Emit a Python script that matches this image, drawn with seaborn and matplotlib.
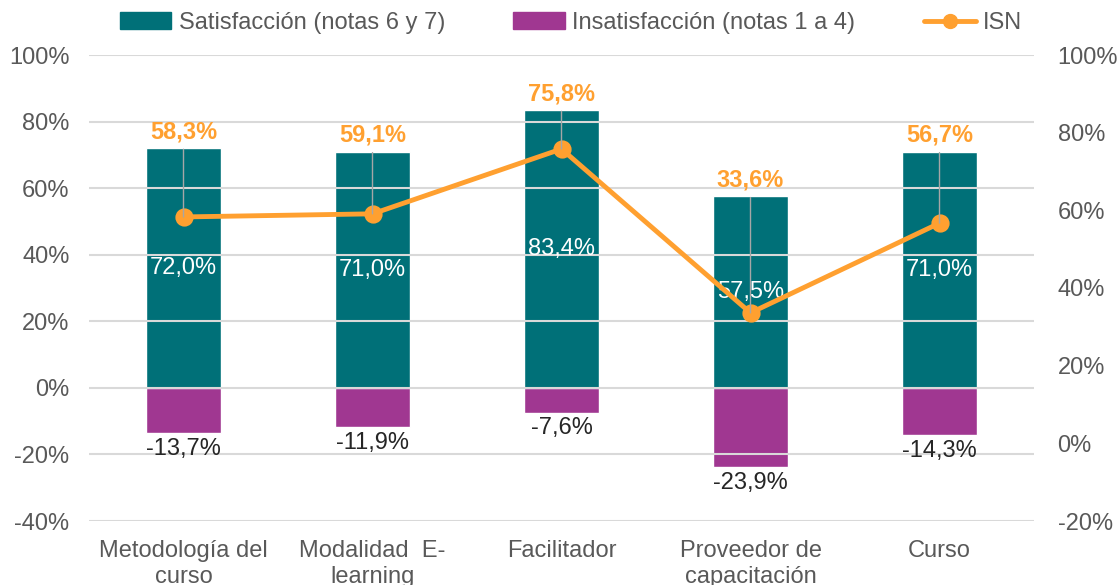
import numpy as np
import matplotlib
matplotlib.use("Agg")
import matplotlib.pyplot as plt
import seaborn as sns
from matplotlib.patches import Patch
from matplotlib.lines import Line2D
from matplotlib.ticker import FuncFormatter, MultipleLocator

# data
categorias = ["Metodología del\ncurso", "Modalidad  E-\nlearning", "Facilitador",
              "Proveedor de\ncapacitación", "Curso"]
satisfaccion = [72.0, 71.0, 83.4, 57.5, 71.0]
insatisfaccion = [-13.7, -11.9, -7.6, -23.9, -14.3]
isn = [58.3, 59.1, 75.8, 33.6, 56.7]

TEAL = "#007078"
PURPLE = "#A03791"
ORANGE = "#FFA030"
GRAY_TXT = "#595959"
GRID = "#D9D9D9"

sns.set_style("white")
plt.rcParams["font.family"] = ["Liberation Sans", "DejaVu Sans"]
FS = 17

def pct(v):
    return f"{v:.1f}%".replace(".", ",")

fig = plt.figure(figsize=(11.17, 5.85), dpi=100)
ax = fig.add_axes([89 / 1117, 1 - 521 / 585, (1034 - 89) / 1117, (521 - 55) / 585])

x = list(range(len(categorias)))
sns.barplot(x=x, y=satisfaccion, ax=ax, color=TEAL, saturation=1, width=0.4)
sns.barplot(x=x, y=insatisfaccion, ax=ax, color=PURPLE, saturation=1, width=0.4)

ax.set_ylim(-40, 100)
ax.yaxis.set_major_locator(MultipleLocator(20))
ax.yaxis.set_major_formatter(FuncFormatter(lambda v, p: f"{int(round(v))}%"))
ax.grid(axis="y", color=GRID, lw=1.5)
ax.set_axisbelow(False)
ax.tick_params(axis="y", length=0, pad=14, labelsize=FS, labelcolor=GRAY_TXT)
ax.tick_params(axis="x", length=0, pad=14, labelsize=FS, labelcolor=GRAY_TXT)
for s in ax.spines.values():
    s.set_visible(False)

# value labels on bars
for i in x:
    ax.text(i, satisfaccion[i] / 2, pct(satisfaccion[i]), ha="center", va="center",
            color="white", fontsize=FS)
    ax.annotate(pct(insatisfaccion[i]), (i, insatisfaccion[i]), xytext=(0, -3),
                textcoords="offset points", ha="center", va="top",
                color="#262626", fontsize=FS)

# ISN line on secondary axis
ax2 = ax.twinx()
sns.pointplot(x=x, y=isn, ax=ax2, color=ORANGE, markers="o", linestyles="-",
              markersize=10.5, linewidth=3.5)
ax2.set_ylim(-20, 100)
ax2.yaxis.set_major_locator(MultipleLocator(20))
ax2.yaxis.set_major_formatter(FuncFormatter(lambda v, p: f"{int(round(v))}%"))
ax2.tick_params(axis="y", length=0, pad=17, labelsize=FS, labelcolor=GRAY_TXT)
ax2.set_xlabel("")
ax2.set_ylabel("")
for s in ax2.spines.values():
    s.set_visible(False)

for i in x:
    ax2.annotate(pct(isn[i]), xy=(i, isn[i]), xycoords="data",
                 xytext=(i, satisfaccion[i] + 1.5), textcoords=ax.transData,
                 ha="center", va="bottom", color=ORANGE, fontsize=FS,
                 fontweight="bold",
                 arrowprops=dict(arrowstyle="-", color="#A6A6A6", lw=1,
                                 shrinkA=2, shrinkB=0))

ax.set_xlim(-0.5, len(categorias) - 0.5)
ax.set_xticks(x)
ax.set_xticklabels(categorias)
ax.set_xlabel("")
ax.set_ylabel("")

handles = [
    Patch(color=TEAL, label="Satisfacción (notas 6 y 7)"),
    Patch(color=PURPLE, label="Insatisfacción (notas 1 a 4)"),
    Line2D([0], [0], color=ORANGE, lw=3.5, marker="o", markersize=10, label="ISN"),
]
leg = fig.legend(handles=handles, loc="center", bbox_to_anchor=(0.511, 1 - 23 / 585),
                 ncol=3, frameon=False, fontsize=FS, handlelength=2.2,
                 handletextpad=0.3, columnspacing=2.9)
for t in leg.get_texts():
    t.set_color(GRAY_TXT)

fig.savefig("out.png", dpi=100)
